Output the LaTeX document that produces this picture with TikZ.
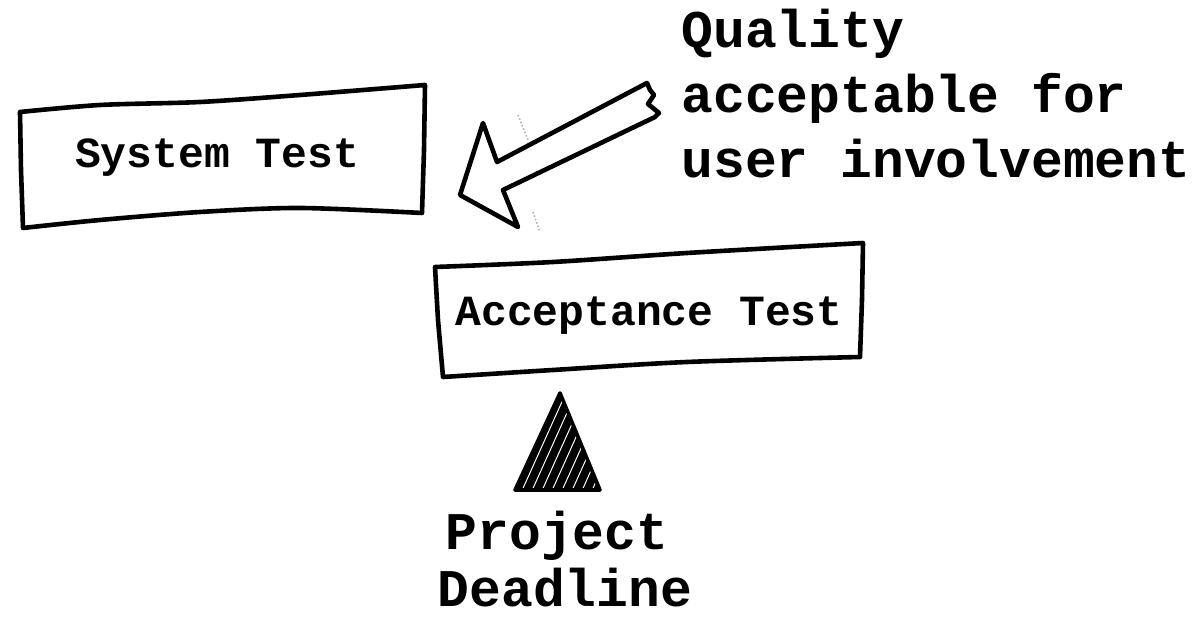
\documentclass[tikz,border=0pt]{standalone}
\usepackage{fontspec}
\setmonofont{Liberation Mono}
\begin{document}
\begin{tikzpicture}[x=0.5pt,y=-0.5pt,
  sketch/.style={line width=2.3pt,line join=round,line cap=round},
  boxtext/.style={font=\ttfamily\bfseries\fontsize{21.5}{26}\selectfont},
  bigtext/.style={font=\ttfamily\bfseries\fontsize{26.5}{32.5}\selectfont,align=left,inner sep=0pt}]
\useasboundingbox (0,0) rectangle (1196,619);
% System Test box
\node[boxtext] (sys) at (217,158) {System Test};
\draw[sketch] plot[smooth,tension=0.5] coordinates {(20,112) (100,105) (200,102) (300,95) (425,85)}
  -- (424,150) -- (422,213)
  -- plot[smooth,tension=0.5] coordinates {(422,213) (300,208) (200,212) (100,220) (23,228)}
  -- (21,170) -- cycle;
% Acceptance Test box
\node[boxtext] (acc) at (649,316) {Acceptance Test};
\draw[sketch] plot[smooth,tension=0.5] coordinates {(435,267) (553,262) (687,253) (863,243)}
  -- (862,300) -- (860,357)
  -- plot[smooth,tension=0.5] coordinates {(860,357) (687,362) (553,370) (443,377)}
  -- (438,320) -- cycle;
% Quality text
\node[bigtext,anchor=north west] (qual) at (681,9) {Quality\\acceptable for\\user involvement};
% Big hollow arrow
\coordinate (tail1) at (647,83);
\coordinate (tail2) at (655,117);
\coordinate (tip) at (460,195);
\draw[sketch,fill=white] (tail1) -- (497,162) -- (483,123) -- (tip) -- (518,227) -- (503,190) -- (tail2)
  -- (659,113) -- (648,104) -- (654,95) -- (650,90) -- cycle;
% faint scanner marks
\draw[gray!60,densely dotted,line width=0.8pt] (518,115) -- (528,140);
\draw[gray!60,densely dotted,line width=0.8pt] (533,212) -- (540,232);
% Triangle deadline marker
\coordinate (apex) at (560,393);
\coordinate (bl) at (515,490);
\coordinate (br) at (600,490);
\fill[black] (apex) -- (br) -- (bl) -- cycle;
\begin{scope}
\clip (apex) -- (br) -- (bl) -- cycle;
\foreach \i in {0,...,12}{
  \draw[white,line width=0.5pt] (500+\i*10,495) -- (545+\i*10,395);
}
\end{scope}
\draw[sketch,line width=1.8pt] (apex) -- (br) -- (bl) -- cycle;
% Project Deadline text
\node[bigtext,anchor=base] (proj) at (557,550) {Project};
\node[bigtext,anchor=base] (dead) at (565,607) {Deadline};
\end{tikzpicture}
\end{document}
